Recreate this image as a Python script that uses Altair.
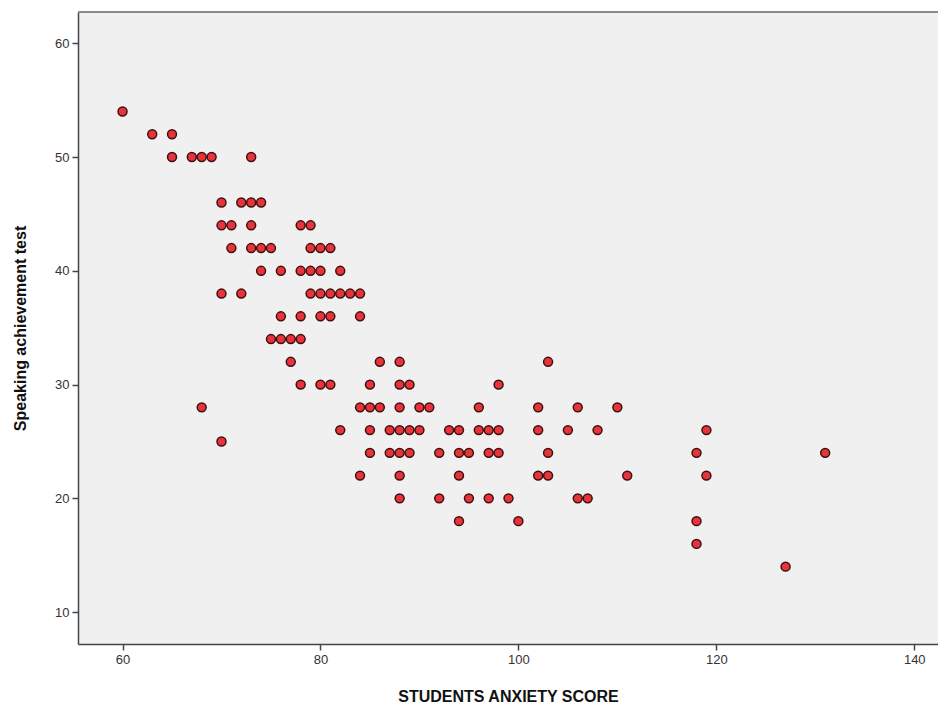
import altair as alt
import pandas as pd

# Speaking achievement score -> list of anxiety scores with that achievement
rows = {
    54: [60],
    52: [63, 65],
    50: [65, 67, 68, 69, 73],
    46: [70, 72, 73, 74],
    44: [70, 71, 73, 78, 79],
    42: [71, 73, 74, 75, 79, 80, 81],
    40: [74, 76, 78, 79, 80, 82],
    38: [70, 72, 79, 80, 81, 82, 83, 84],
    36: [76, 78, 80, 81, 84],
    34: [75, 76, 77, 78],
    32: [77, 86, 88, 103],
    30: [78, 80, 81, 85, 88, 89, 98],
    28: [68, 84, 85, 86, 88, 90, 91, 96, 102, 106, 110],
    26: [82, 85, 87, 88, 89, 90, 93, 94, 96, 97, 98, 102, 105, 108, 119],
    25: [70],
    24: [85, 87, 88, 89, 92, 94, 95, 97, 98, 103, 118, 131],
    22: [84, 88, 94, 102, 103, 111, 119],
    20: [88, 92, 95, 97, 99, 106, 107],
    18: [94, 100, 118],
    16: [118],
    14: [127],
}

anxiety = []
speaking = []
for sp, xs in rows.items():
    for a in xs:
        anxiety.append(a)
        speaking.append(sp)

x_ticks = [60, 80, 100, 120, 140]
y_ticks = [10, 20, 30, 40, 50, 60]

df = pd.DataFrame({"anxiety": anxiety, "speaking": speaking})

W, H = 860, 632

points = (
    alt.Chart(df)
    .mark_point(filled=True, shape="circle", size=80, fill="#e8333a",
                stroke="#3d1010", strokeWidth=1.5, opacity=1)
    .encode(
        x=alt.X("anxiety:Q",
                scale=alt.Scale(domain=[55.5, 142.4], nice=False, zero=False),
                axis=alt.Axis(values=x_ticks, title="STUDENTS ANXIETY SCORE",
                              grid=False, tickSize=6, labelPadding=3,
                              titlePadding=22)),
        y=alt.Y("speaking:Q",
                scale=alt.Scale(domain=[7.2, 62.75], nice=False, zero=False),
                axis=alt.Axis(values=y_ticks, title="Speaking achievement test",
                              grid=False, tickSize=6, labelPadding=3,
                              titlePadding=26)),
    )
)

top_border = alt.Chart(df).mark_rule(color="#8a8a8a", strokeWidth=2).encode(
    x=alt.value(0), x2=alt.value(W), y=alt.value(0)
)

chart = (
    alt.layer(points, top_border)
    .properties(width=W, height=H,
                padding={"left": 70, "top": 4, "right": 0, "bottom": 62},
                autosize=alt.AutoSizeParams(type="none"),
                background="white")
    .configure_view(fill="#f0f0f0", strokeWidth=0)
    .configure_axis(
        domainColor="#444444", domainWidth=1.5,
        tickColor="#444444", tickWidth=1.5,
        labelFont="Liberation Sans", labelFontSize=13, labelColor="#333333",
        titleFont="Liberation Sans", titleFontSize=16, titleFontWeight="bold",
        titleColor="#111111",
    )
)

chart.save("out.html", embed_options={"renderer": "svg", "actions": False})
